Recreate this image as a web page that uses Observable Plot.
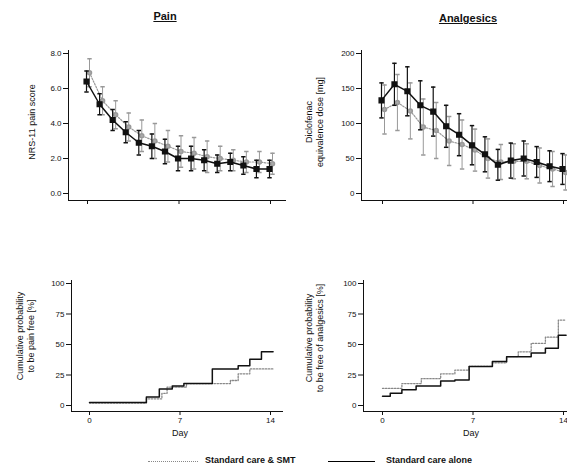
<!DOCTYPE html>
<html><head><meta charset="utf-8">
<script src="https://cdn.jsdelivr.net/npm/d3@7"></script>
<script src="https://cdn.jsdelivr.net/npm/@observablehq/plot@0.6"></script>
<style>
body{margin:0;background:#fff;}
#wrap{position:relative;width:567px;height:468px;overflow:hidden;font-family:"Liberation Sans",Arial,sans-serif;color:#111;}
.p{position:absolute;}
.title{position:absolute;font-weight:bold;font-size:11px;text-decoration:underline;transform:translateX(-50%);white-space:nowrap;}
.yl{position:absolute;font-size:9px;line-height:11px;white-space:pre;text-align:center;transform:translate(-50%,-50%) rotate(-90deg);}
.xl{position:absolute;font-size:9px;transform:translateX(-50%);}
#legend{position:absolute;left:0;top:454px;width:567px;height:14px;font-size:9px;font-weight:bold;}
#legend .sw{position:absolute;top:7px;height:0;}
#legend .tx{position:absolute;top:1px;white-space:nowrap;}
</style></head><body>
<div id="wrap">
  <div class="title" style="left:165px;top:10px;">Pain</div>
  <div class="title" style="left:468px;top:12px;">Analgesics</div>
  <div class="p" id="p1" style="left:0;top:0;"></div>
  <div class="p" id="p2" style="left:290px;top:0;"></div>
  <div class="p" id="p3" style="left:0;top:250px;"></div>
  <div class="p" id="p4" style="left:290px;top:250px;"></div>
  <div class="yl" style="left:32px;top:122px;">NRS-11 pain score</div>
  <div class="yl" style="left:315px;top:122px;">Diclofenac
equivalence dose [mg]</div>
  <div class="yl" style="left:26px;top:336px;">Cumulative probability
to be pain free [%]</div>
  <div class="yl" style="left:315px;top:338px;">Cumulative probability
to be free of analgesics [%]</div>
  <div class="xl" style="left:180px;top:428px;">Day</div>
  <div class="xl" style="left:471px;top:428px;">Day</div>
  <div id="legend">
    <div class="sw" style="left:148px;width:50px;border-top:1.5px dotted #888;"></div>
    <div class="tx" style="left:205px;">Standard care &amp; SMT</div>
    <div class="sw" style="left:328px;width:47px;border-top:1.5px solid #000;"></div>
    <div class="tx" style="left:386px;">Standard care alone</div>
  </div>
</div>
<script>
// ---- data ----
const days = [0,1,2,3,4,5,6,7,8,9,10,11,12,13,14];
// Pain (NRS-11), mean and error
const painSC     = [6.4,5.1,4.2,3.5,2.9,2.7,2.4,2.0,2.0,1.9,1.7,1.8,1.6,1.4,1.4];
const painSCErr  = [0.6,0.6,0.6,0.6,0.7,0.7,0.7,0.7,0.7,0.6,0.5,0.5,0.5,0.5,0.5];
const painSMT    = [6.9,5.3,4.5,3.8,3.3,3.0,2.7,2.4,2.3,2.1,2.0,1.9,1.8,1.8,1.7];
const painSMTErr = [0.8,0.8,0.8,0.8,0.9,1.0,0.9,0.9,0.9,0.9,0.7,0.6,0.6,0.6,0.6];
// Analgesics (diclofenac equivalence dose, mg)
const anaSC      = [133,156,146,126,117,96,84,69,56,41,47,50,45,39,35];
const anaSCErr   = [25,30,35,35,35,30,30,28,25,22,25,25,22,22,22];
const anaSMT     = [120,130,118,95,90,75,70,62,50,45,46,46,40,35,30];
const anaSMTErr  = [35,40,40,40,40,35,35,30,28,25,25,25,25,25,25];
// Cumulative probability to be pain free (step start day, %)
const kmPainSC_t  = [0,4.4,5.4,6.4,7.3,9.5,11.5,12.4,13.3,14.2];
const kmPainSC_v  = [2.5,7,13.5,16,18,30,32.5,38,44,44];
const kmPainSMT_t = [0,4.4,5.6,6.0,7.5,10.9,11.5,12.4,14.2];
const kmPainSMT_v = [2,5.5,10,15,18,20.5,26,30,30];
// Cumulative probability to be free of analgesics (step start day, %)
const kmAnaSC_t  = [0,0.6,1.5,2.6,4.5,5.6,6.7,8.5,9.6,11.5,12.6,13.6,14.2];
const kmAnaSC_v  = [7.5,10,13,16,20,21,32,36,40,43,47,57.5,57.5];
const kmAnaSMT_t = [0,1.5,3.0,4.5,5.6,6.7,8.5,9.6,10.5,11.5,12.6,13.6,14.2];
const kmAnaSMT_v = [14,18,22,26,29,32,35,40,44,51,56,70,70];
// ticks
const xTicks = [0,7,14];
const painTicks = [0,2,4,6,8];
const anaTicks = [0,50,100,150,200];
const kmTicks = [0,25,50,75,100];

const font = "Liberation Sans, Arial, sans-serif";
const capSymbol = {draw(ctx, size){ const w = Math.sqrt(size/Math.PI); ctx.moveTo(-w,0); ctx.lineTo(w,0); }};

function meanPanel(sc, scErr, smt, smtErr, yDomain, yTicks, fmt, width, ml, mr, il, ir) {
  const rows = days.map((d,i)=>({day:d, sc:sc[i], scErr:scErr[i], smt:smt[i], smtErr:smtErr[i]}));
  return Plot.plot({
    width, height: 225, marginLeft: ml, marginRight: mr, marginTop: 50, marginBottom: 25,
    insetTop: 3, insetBottom: 7, insetLeft: il, insetRight: ir,
    style: {fontSize: "8px", fontFamily: font, background: "transparent", color: "#111"},
    x: {domain: [0,14], ticks: xTicks, tickFormat: () => "", line: true, tickSize: 4, label: null},
    y: {domain: yDomain, ticks: yTicks, tickFormat: fmt, line: true, tickSize: 5, tickPadding: 2, label: null},
    marks: [
      Plot.ruleX(rows, {x:"day", y1:d=>d.smt-d.smtErr, y2:d=>d.smt+d.smtErr, dx:2, stroke:"#999", strokeWidth:1}),
      Plot.dot(rows, {x:"day", y:d=>d.smt+d.smtErr, dx:2, symbol:capSymbol, r:2.2, stroke:"#999", fill:"none"}),
      Plot.dot(rows, {x:"day", y:d=>d.smt-d.smtErr, dx:2, symbol:capSymbol, r:2.2, stroke:"#999", fill:"none"}),
      Plot.line(rows, {x:"day", y:"smt", dx:2, stroke:"#999", strokeWidth:1.2, strokeDasharray:"1.5,1.5"}),
      Plot.dot(rows, {x:"day", y:"smt", dx:2, r:2, fill:"#aaa", stroke:"#999"}),
      Plot.ruleX(rows, {x:"day", y1:d=>d.sc-d.scErr, y2:d=>d.sc+d.scErr, dx:-1, stroke:"#111", strokeWidth:1.2}),
      Plot.dot(rows, {x:"day", y:d=>d.sc+d.scErr, dx:-1, symbol:capSymbol, r:2.2, stroke:"#111", fill:"none"}),
      Plot.dot(rows, {x:"day", y:d=>d.sc-d.scErr, dx:-1, symbol:capSymbol, r:2.2, stroke:"#111", fill:"none"}),
      Plot.line(rows, {x:"day", y:"sc", dx:-1, stroke:"#111", strokeWidth:1.5}),
      Plot.dot(rows, {x:"day", y:"sc", dx:-1, symbol:"square", r:2.6, fill:"#111", stroke:"#111"})
    ]
  });
}

function kmPanel(t1, v1, t2, v2, width, ml, mr, il, ir) {
  const a = t1.map((t,i)=>({t, v:v1[i]}));
  const b = t2.map((t,i)=>({t, v:v2[i]}));
  return Plot.plot({
    width, height: 190, marginLeft: ml, marginRight: mr, marginTop: 30, marginBottom: 29,
    insetTop: 3, insetBottom: 6, insetLeft: il, insetRight: ir,
    style: {fontSize: "8px", fontFamily: font, background: "transparent", color: "#111"},
    x: {domain: [0,14], ticks: xTicks, tickFormat: d3.format("d"), line: true, tickSize: 4, tickPadding: 2, label: null},
    y: {domain: [0,100], ticks: kmTicks, tickFormat: d3.format("d"), line: true, tickSize: 5, tickPadding: 2, label: null},
    marks: [
      Plot.line(b, {x:"t", y:"v", curve:"step-after", stroke:"#888", strokeWidth:1.3, strokeDasharray:"1.5,1.5"}),
      Plot.line(a, {x:"t", y:"v", curve:"step-after", stroke:"#111", strokeWidth:1.5})
    ]
  });
}

document.getElementById("p1").append(meanPanel(painSC, painSCErr, painSMT, painSMTErr, [0,8], painTicks, d3.format(".1f"), 290, 68, 5, 19, 15));
document.getElementById("p2").append(meanPanel(anaSC, anaSCErr, anaSMT, anaSMTErr, [0,200], anaTicks, d3.format("d"), 277, 71, 0, 21, 4));
document.getElementById("p3").append(kmPanel(kmPainSC_t, kmPainSC_v, kmPainSMT_t, kmPainSMT_v, 290, 71, 8, 18, 12));
document.getElementById("p4").append(kmPanel(kmAnaSC_t, kmAnaSC_v, kmAnaSMT_t, kmAnaSMT_v, 277, 73, 0, 19, 4));
</script>
</body></html>
